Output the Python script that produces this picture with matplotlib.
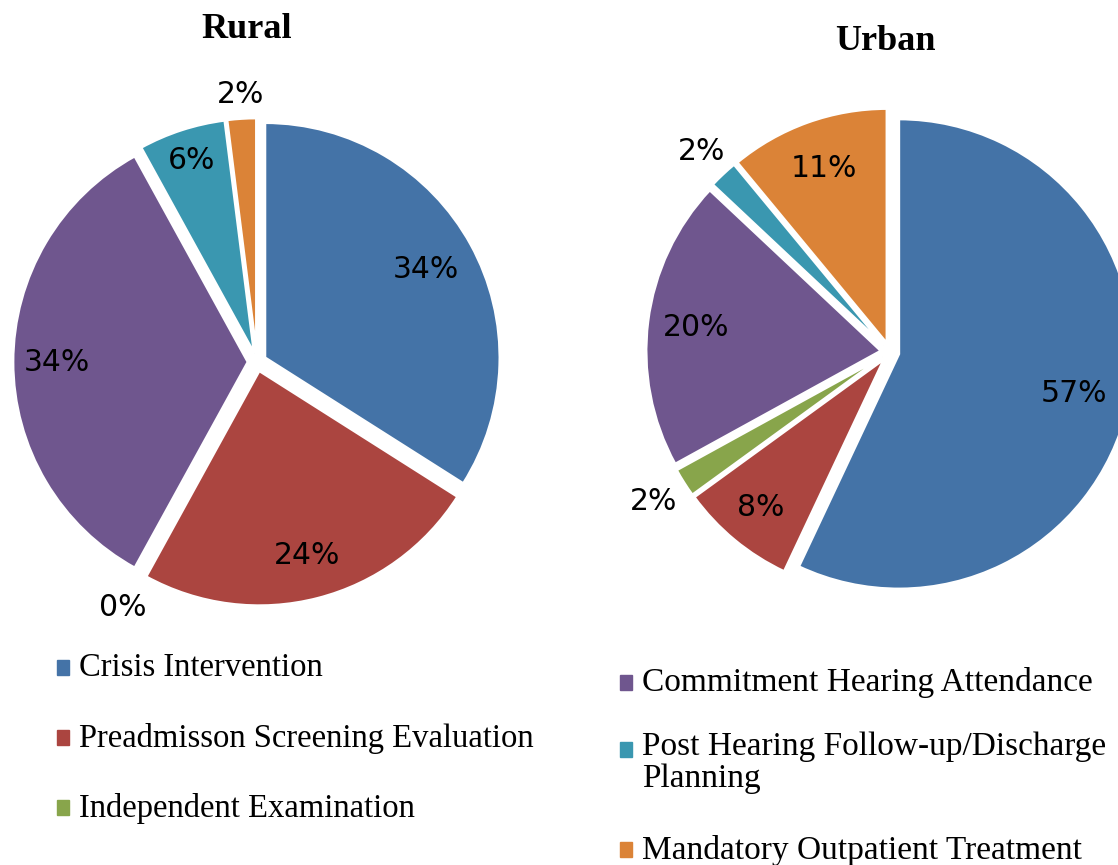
import matplotlib
matplotlib.use("Agg")
import matplotlib.pyplot as plt
import numpy as np
from matplotlib.patches import Rectangle

categories = ["Crisis Intervention", "Preadmisson Screening Evaluation",
              "Independent Examination", "Commitment Hearing Attendance",
              "Post Hearing Follow-up/Discharge\nPlanning",
              "Mandatory Outpatient Treatment"]
colors = ["#4473a7", "#ab4540", "#88a54b", "#6f568e", "#3a97b0", "#db8337"]

rural = [34, 24, 0, 34, 6, 2]
urban = [57, 8, 2, 20, 2, 11]

# radial distance of each percentage label, in pie radii
rural_lab_r = [0.82, 0.85, 1.19, 0.85, 0.90, 1.14]
urban_lab_r = [0.80, 0.86, 1.19, 0.83, 1.17, 0.83]

W, H = 1118, 865
fig = plt.figure(figsize=(W / 100, H / 100), dpi=100)
ax = fig.add_axes([0, 0, 1, 1])

R = 235


def draw_pie(vals, center, lab_r):
    cx, cy = center[0], H - center[1]
    # explode is in data units (pixels here)
    wedges, _ = ax.pie(vals, colors=colors, startangle=90, counterclock=False,
                       explode=[9] * len(vals), center=(cx, cy), radius=R,
                       wedgeprops=dict(edgecolor="white", linewidth=2))
    for w, v, d in zip(wedges, vals, lab_r):
        ang = np.deg2rad((w.theta1 + w.theta2) / 2)
        ax.text(cx + d * R * np.cos(ang), cy + d * R * np.sin(ang), f"{v}%",
                ha="center", va="center", fontsize=21.5, family="DejaVu Sans")
    return wedges


draw_pie(rural, (257, 362), rural_lab_r)
draw_pie(urban, (890, 352), urban_lab_r)

ax.set_xlim(0, W)
ax.set_ylim(0, H)
ax.set_aspect("auto")
ax.axis("off")

ax.text(247, H - 30, "Rural", ha="center", va="center", fontsize=26,
        fontweight="bold", family="Liberation Serif")
ax.text(885, H - 42, "Urban", ha="center", va="center", fontsize=26,
        fontweight="bold", family="Liberation Serif")

# legends (category index, x, y of the marker in pixels from top)
leg_rows = [(0, 57, 668), (1, 57, 738), (2, 57, 808),
            (3, 620, 683), (4, 620, 750), (5, 620, 850)]
for i, x, y in leg_rows:
    ax.add_patch(Rectangle((x, H - y - 7), 12, 15, color=colors[i]))
    fs = 23.5 if x < 500 else 24
    if "\n" in categories[i]:
        ax.text(x + 22, H - y + 18, categories[i], ha="left", va="top",
                fontsize=fs, family="Liberation Serif", linespacing=1.05)
    else:
        ax.text(x + 22, H - y, categories[i], ha="left", va="center",
                fontsize=fs, family="Liberation Serif")

fig.savefig("out.png", dpi=100)
